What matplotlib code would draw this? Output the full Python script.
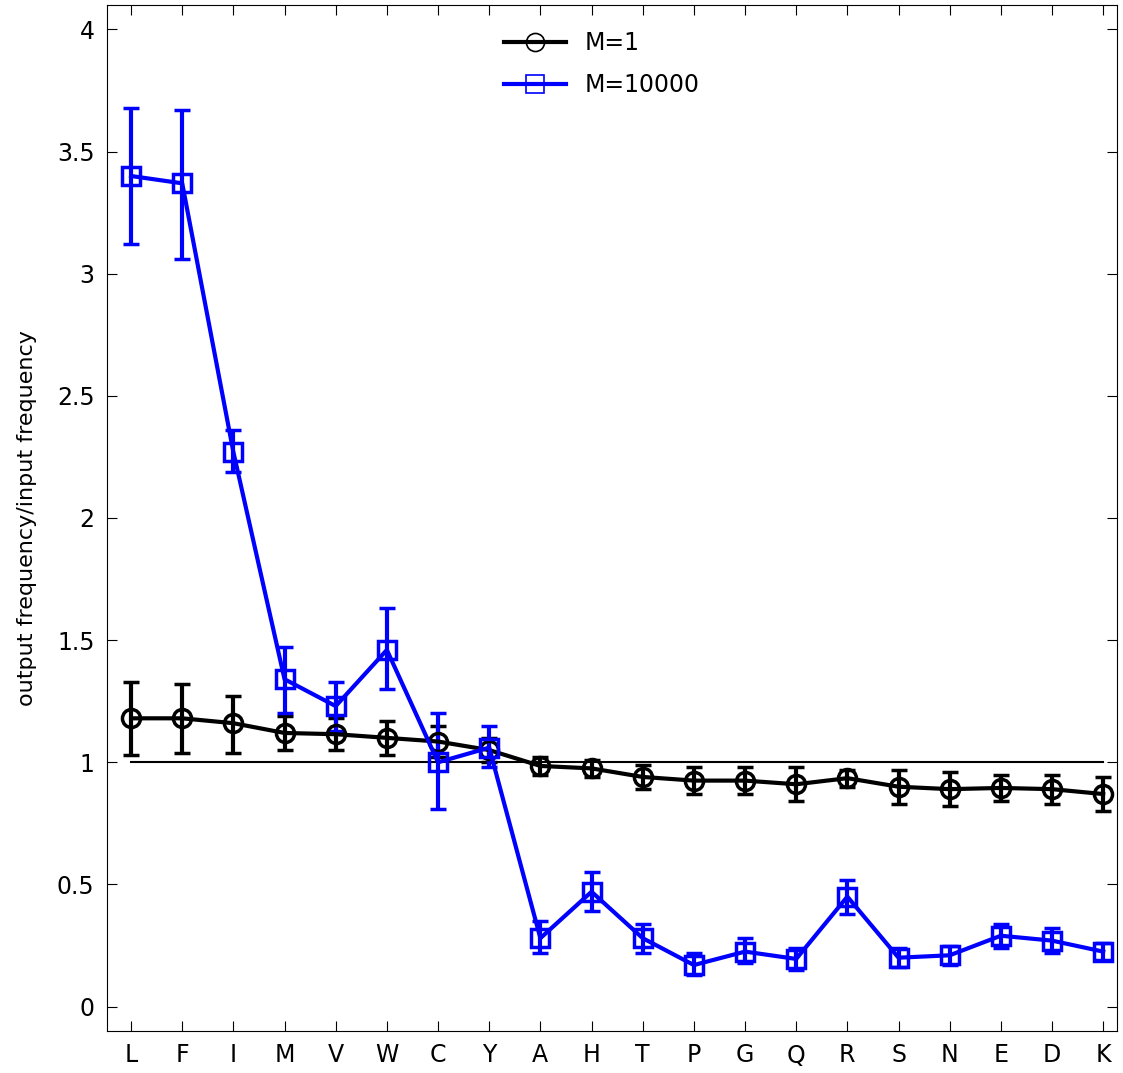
import matplotlib.pyplot as plt
import numpy as np
from matplotlib.lines import Line2D

labels = ['L', 'F', 'I', 'M', 'V', 'W', 'C', 'Y', 'A', 'H', 'T', 'P', 'G', 'Q', 'R', 'S', 'N', 'E', 'D', 'K']

m1_val = [1.18, 1.18, 1.16, 1.12, 1.115, 1.10, 1.085, 1.05, 0.985, 0.975, 0.94, 0.925, 0.925, 0.91, 0.935, 0.90, 0.89, 0.895, 0.89, 0.87]
m1_lo = [1.03, 1.04, 1.04, 1.05, 1.05, 1.03, 1.02, 1.00, 0.95, 0.94, 0.89, 0.87, 0.87, 0.84, 0.90, 0.83, 0.82, 0.84, 0.83, 0.80]
m1_hi = [1.33, 1.32, 1.27, 1.19, 1.18, 1.17, 1.15, 1.10, 1.02, 1.01, 0.99, 0.98, 0.98, 0.98, 0.97, 0.97, 0.96, 0.95, 0.95, 0.94]

m10k_val = [3.40, 3.37, 2.27, 1.34, 1.23, 1.46, 1.00, 1.06, 0.28, 0.47, 0.28, 0.17, 0.225, 0.195, 0.45, 0.20, 0.21, 0.29, 0.27, 0.225]
m10k_lo = [3.12, 3.06, 2.19, 1.20, 1.13, 1.30, 0.81, 0.98, 0.22, 0.39, 0.22, 0.13, 0.18, 0.15, 0.38, 0.16, 0.17, 0.24, 0.22, 0.19]
m10k_hi = [3.68, 3.67, 2.36, 1.47, 1.33, 1.63, 1.20, 1.15, 0.35, 0.55, 0.34, 0.22, 0.28, 0.24, 0.52, 0.24, 0.25, 0.34, 0.32, 0.26]

x = np.arange(len(labels))

fig = plt.figure(figsize=(11.23, 10.73), dpi=100)
ax = fig.add_axes([107 / 1123, 1 - 1031 / 1073, 1010 / 1123, 1026 / 1073])

ax.plot([x[0], x[-1]], [1, 1], color='black', lw=1.5, zorder=1)

def series(val, lo, hi, color, marker, label):
    val, lo, hi = map(np.array, (val, lo, hi))
    ax.errorbar(x, val, yerr=[val - lo, hi - val], color=color, lw=3, elinewidth=3,
                capsize=6, capthick=3, marker=marker, markersize=13, markerfacecolor='none',
                markeredgewidth=2.5, label=label, zorder=3)

series(m1_val, m1_lo, m1_hi, 'black', 'o', 'M=1')
series(m10k_val, m10k_lo, m10k_hi, '#0000ff', 's', 'M=10000')

ax.set_xlim(-0.47, 19.27)
ax.set_ylim(-0.1, 4.1)
ax.set_xticks(x)
ax.set_xticklabels(labels)
ax.set_yticks([0, 0.5, 1, 1.5, 2, 2.5, 3, 3.5, 4])
ax.set_yticklabels(['0', '0.5', '1', '1.5', '2', '2.5', '3', '3.5', '4'])
ax.tick_params(direction='in', top=True, right=True, labelsize=17, length=7, pad=9)
ax.set_ylabel('output frequency/input frequency', fontsize=16, labelpad=14)

h = [Line2D([], [], color='black', lw=3, marker='o', markersize=13, markerfacecolor='none', markeredgewidth=1.2),
     Line2D([], [], color='#0000ff', lw=3, marker='s', markersize=13, markerfacecolor='none', markeredgewidth=1.2)]
ax.legend(h, ['M=1', 'M=10000'], loc='upper center', bbox_to_anchor=(0.49, 0.993), frameon=False,
          fontsize=17, handlelength=2.6, labelspacing=0.75, borderpad=0.3)

fig.savefig('out.png', dpi=100)
